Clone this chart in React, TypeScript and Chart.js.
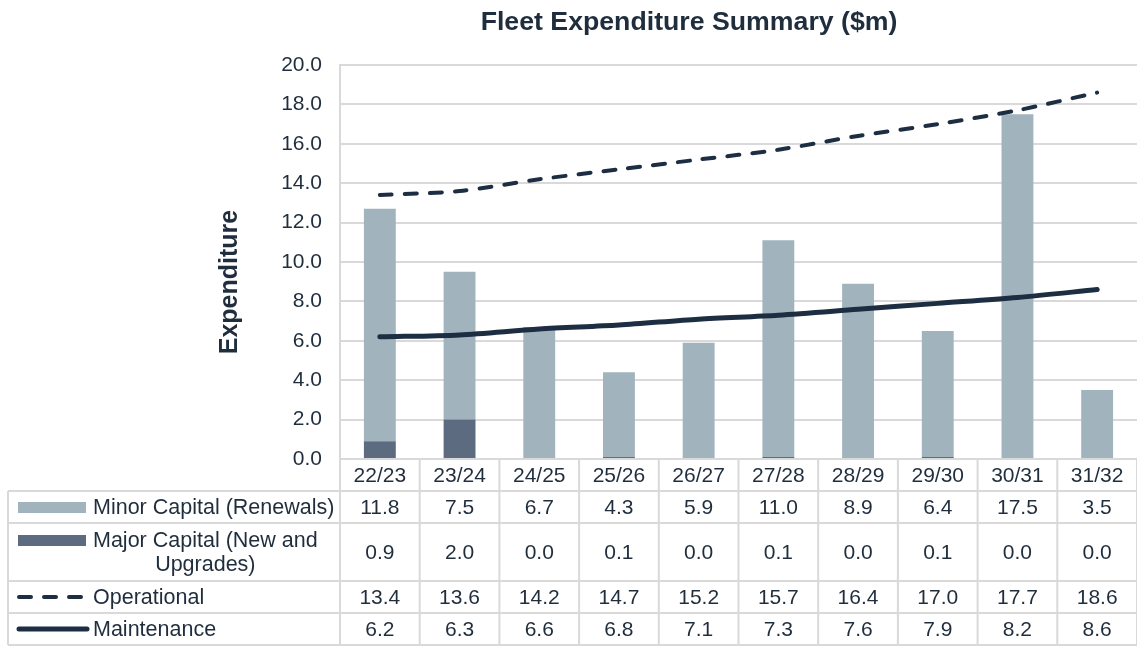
import React, { useEffect, useRef } from "react";
import { Chart, registerables } from "chart.js";

Chart.register(...registerables);

const categories = ["22/23", "23/24", "24/25", "25/26", "26/27", "27/28", "28/29", "29/30", "30/31", "31/32"];
const minorCapital = [11.8, 7.5, 6.7, 4.3, 5.9, 11.0, 8.9, 6.4, 17.5, 3.5];
const majorCapital = [0.9, 2.0, 0.0, 0.1, 0.0, 0.1, 0.0, 0.1, 0.0, 0.0];
const operational = [13.4, 13.6, 14.2, 14.7, 15.2, 15.7, 16.4, 17.0, 17.7, 18.6];
const maintenance = [6.2, 6.3, 6.6, 6.8, 7.1, 7.3, 7.6, 7.9, 8.2, 8.6];

const seriesNames = ["Minor Capital (Renewals)", "Major Capital (New and|Upgrades)", "Operational", "Maintenance"];
const titleText = "Fleet Expenditure Summary ($m)";
const yTitleText = "Expenditure";

const FONT = "'Liberation Sans', Arial, sans-serif";
const TEXT = "#1f2d3d";
const GRID = "#d9d9d9";
const MINOR_COL = "#a1b4be";
const MAJOR_COL = "#5c6b80";
const LINE_COL = "#1d2e42";

const tablePlugin = {
  id: "dataTable",
  afterDraw(chart: any) {
    const ctx = chart.ctx as CanvasRenderingContext2D;
    const { left, right, bottom } = chart.chartArea;
    const xs = chart.scales.x;
    const n = categories.length;
    const w = (right - left) / n;
    const rows = [bottom, bottom + 32, bottom + 64, bottom + 122, bottom + 154, bottom + 186];
    const tableLeft = 8;
    ctx.save();
    ctx.strokeStyle = GRID;
    ctx.lineWidth = 2;
    ctx.beginPath();
    for (let r = 1; r < rows.length; r++) {
      ctx.moveTo(tableLeft, rows[r]);
      ctx.lineTo(right, rows[r]);
    }
    ctx.moveTo(tableLeft, rows[1]);
    ctx.lineTo(tableLeft, rows[5]);
    for (let i = 0; i <= n; i++) {
      const x = left + i * w;
      ctx.moveTo(x, rows[0]);
      ctx.lineTo(x, rows[5]);
    }
    ctx.stroke();

    ctx.fillStyle = TEXT;
    ctx.textAlign = "center";
    ctx.textBaseline = "middle";
    ctx.font = `21px ${FONT}`;
    const series = [minorCapital, majorCapital, operational, maintenance];
    categories.forEach((c, i) => {
      const cx = xs.getPixelForValue(i);
      ctx.fillText(c, cx, (rows[0] + rows[1]) / 2 + 1);
      series.forEach((s, r) => {
        ctx.fillText(s[i].toFixed(1), cx, (rows[r + 1] + rows[r + 2]) / 2 + 1);
      });
    });

    // legend keys
    const keyX0 = 18;
    const keyX1 = 86;
    const textX = 93;
    let cy = (rows[1] + rows[2]) / 2;
    ctx.fillStyle = MINOR_COL;
    ctx.fillRect(keyX0, cy - 5, keyX1 - keyX0, 11);
    cy = (rows[2] + rows[3]) / 2;
    ctx.fillStyle = MAJOR_COL;
    ctx.fillRect(keyX0, cy - 17, keyX1 - keyX0, 11);
    cy = (rows[3] + rows[4]) / 2;
    ctx.strokeStyle = LINE_COL;
    ctx.lineWidth = 4;
    ctx.lineCap = "round";
    ctx.setLineDash([12, 13]);
    ctx.beginPath();
    ctx.moveTo(keyX0 + 1, cy);
    ctx.lineTo(keyX1 + 1, cy);
    ctx.stroke();
    ctx.setLineDash([]);
    cy = (rows[4] + rows[5]) / 2;
    ctx.lineWidth = 5;
    ctx.beginPath();
    ctx.moveTo(keyX0 + 1, cy);
    ctx.lineTo(keyX1 + 1, cy);
    ctx.stroke();

    ctx.fillStyle = TEXT;
    ctx.font = `21.5px ${FONT}`;
    ctx.textAlign = "left";
    ctx.fillText(seriesNames[0], textX, (rows[1] + rows[2]) / 2 + 1);
    const [l1, l2] = seriesNames[1].split("|");
    const midMajor = (rows[2] + rows[3]) / 2;
    ctx.fillText(l1, textX, midMajor - 11);
    const l1w = ctx.measureText(l1).width;
    ctx.textAlign = "center";
    ctx.fillText(l2, textX + l1w / 2, midMajor + 13);
    ctx.textAlign = "left";
    ctx.fillText(seriesNames[2], textX, (rows[3] + rows[4]) / 2 + 1);
    ctx.fillText(seriesNames[3], textX, (rows[4] + rows[5]) / 2 + 1);

    ctx.textAlign = "center";
    ctx.font = `bold 26.7px ${FONT}`;
    ctx.fillText(titleText, 689, 23);

    ctx.translate(230, 282);
    ctx.rotate(-Math.PI / 2);
    ctx.font = `bold 25px ${FONT}`;
    ctx.fillText(yTitleText, 0, 0);
    ctx.restore();
  },
};

export default function App() {
  const ref = useRef<HTMLCanvasElement>(null);
  useEffect(() => {
    if (!ref.current) return;
    const chart = new Chart(ref.current, {
      type: "bar",
      data: {
        labels: categories,
        datasets: [
          {
            type: "line",
            label: "Maintenance",
            data: maintenance,
            borderColor: LINE_COL,
            borderWidth: 5,
            borderCapStyle: "round",
            pointRadius: 0,
            tension: 0.3,
            stack: "l2",
            fill: false,
          } as any,
          {
            type: "line",
            label: "Operational",
            data: operational,
            borderColor: LINE_COL,
            borderWidth: 4,
            borderDash: [12, 13],
            borderCapStyle: "round",
            pointRadius: 0,
            tension: 0.3,
            stack: "l1",
            fill: false,
          } as any,
          {
            label: "Major Capital (New and Upgrades)",
            data: majorCapital,
            backgroundColor: MAJOR_COL,
            stack: "cap",
            barPercentage: 0.4,
            categoryPercentage: 1,
          },
          {
            label: "Minor Capital (Renewals)",
            data: minorCapital,
            backgroundColor: MINOR_COL,
            stack: "cap",
            barPercentage: 0.4,
            categoryPercentage: 1,
          },
        ],
      },
      options: {
        responsive: false,
        animation: false,
        layout: { padding: { top: 65, bottom: 189, left: 0, right: 0 } },
        plugins: { legend: { display: false }, title: { display: false }, tooltip: { enabled: false } },
        scales: {
          x: { display: false, stacked: true, grid: { display: false } },
          y: {
            stacked: true,
            min: 0,
            max: 20,
            ticks: {
              stepSize: 2,
              padding: 18,
              color: TEXT,
              font: { family: FONT, size: 21 },
              callback: (v: any) => Number(v).toFixed(1),
            },
            grid: { color: GRID, lineWidth: 2, drawTicks: false },
            border: { display: true, color: GRID, width: 2 },
            afterFit: (scale: any) => {
              scale.width = 340;
            },
          },
        },
      },
      plugins: [tablePlugin],
    });
    return () => chart.destroy();
  }, []);
  return (
    <div style={{ position: "fixed", left: 0, top: 0, width: 1137, height: 648, background: "#fff" }}>
      <canvas ref={ref} width={1137} height={648} style={{ display: "block" }} />
    </div>
  );
}
